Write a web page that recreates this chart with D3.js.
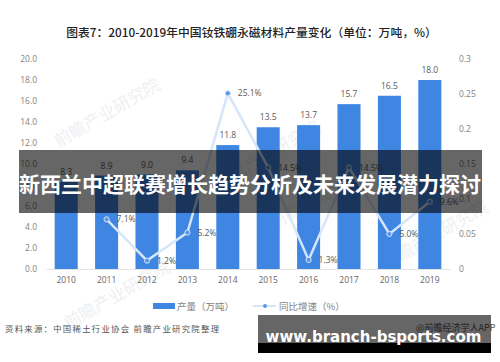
<!DOCTYPE html>
<html>
<head>
<meta charset="utf-8">
<script src="https://cdnjs.cloudflare.com/ajax/libs/d3/7.8.5/d3.min.js"></script>
<style>
    html, body { margin: 0; padding: 0; background: #fff; }
    svg { display: block; }
    text { font-family: "Noto Sans CJK SC", sans-serif; }
    .tick text { font-family: "Open Sans", "Noto Sans", sans-serif; }
</style>
</head>
<body>
<svg id="drawing_region"></svg>
<script>
const years = ['2010','2011','2012','2013','2014','2015','2016','2017','2018','2019'];
const output = [8.3, 8.9, 9.0, 9.4, 11.8, 13.5, 13.7, 15.7, 16.5, 18.0];
const growth = [null, 7.1, 1.2, 5.2, 25.1, 14.5, 1.3, 14.5, 5.0, 9.6];
const left_ticks = [0, 2, 4, 6, 8, 10, 12, 14, 16, 18, 20];
const right_ticks = [0, 0.05, 0.1, 0.15, 0.2, 0.25, 0.3];
const watermarks = [[110, 118], [325, 200], [120, 300], [270, 160], [438, 240]];

const width = 500, height = 362;
const margin = {top: 59, right: 50, bottom: 93, left: 46};
const inner_width = width - margin.left - margin.right;
const inner_height = height - margin.top - margin.bottom;

const svg = d3.select('#drawing_region')
    .attr('width', width)
    .attr('height', height);

// faint watermark goes under everything
svg.append('g').selectAll('text')
    .data(watermarks)
    .enter()
    .append('text')
    .attr('transform', d => `translate(${d[0]}, ${d[1]}) rotate(-30)`)
    .attr('text-anchor', 'middle')
    .attr('font-size', 17)
    .attr('fill', '#eef0f3')
    .text('前瞻产业研究院');

svg.append('text')
    .attr('x', 251.5)
    .attr('y', 37)
    .attr('text-anchor', 'middle')
    .attr('font-size', 11.8)
    .attr('font-weight', 500)
    .attr('fill', '#222')
    .text('图表7：2010-2019年中国钕铁硼永磁材料产量变化（单位：万吨，%）');

const chart = svg.append('g')
    .attr('transform', `translate(${margin.left}, ${margin.top})`);

const xscale = d3.scaleBand()
    .domain(years)
    .range([0, inner_width])
    .paddingInner(0.43)
    .paddingOuter(0.215);
const yscale = d3.scaleLinear().domain([0, 20]).range([inner_height, 0]);
const y2scale = d3.scaleLinear().domain([0, 0.3]).range([inner_height, 0]);

const xaxis_group = chart.append('g')
    .attr('transform', `translate(0, ${inner_height})`)
    .call(d3.axisBottom(xscale).tickSize(0).tickPadding(8));
xaxis_group.select('.domain').attr('stroke', '#e3e3e3');

const yaxis_group = chart.append('g')
    .call(d3.axisLeft(yscale).tickValues(left_ticks).tickFormat(d3.format('.1f')).tickSize(0).tickPadding(9));
yaxis_group.select('.domain').remove();

const y2axis_group = chart.append('g')
    .attr('transform', `translate(${inner_width + 9}, 0)`)
    .call(d3.axisRight(y2scale).tickValues(right_ticks).tickFormat(d => String(d)).tickSize(0).tickPadding(0));
y2axis_group.select('.domain').remove();

chart.selectAll('.tick text')
    .attr('font-size', 8.5)
    .attr('fill', '#7f7f7f');
xaxis_group.selectAll('.tick text').attr('fill', '#666');

chart.selectAll('.bar')
    .data(output)
    .enter()
    .append('rect')
    .attr('class', 'bar')
    .attr('x', (d, i) => xscale(years[i]))
    .attr('y', d => yscale(d))
    .attr('width', xscale.bandwidth())
    .attr('height', d => yscale(0) - yscale(d))
    .attr('fill', '#3f86e3');

chart.selectAll('.bar_label')
    .data(output)
    .enter()
    .append('text')
    .attr('class', 'bar_label')
    .attr('x', (d, i) => xscale(years[i]) + xscale.bandwidth() / 2)
    .attr('y', d => yscale(d) - 7)
    .attr('text-anchor', 'middle')
    .attr('font-size', 8.5)
    .style('font-family', '"Open Sans", sans-serif')
    .attr('fill', '#595959')
    .text(d => d.toFixed(1));

const line_points = growth
    .map((d, i) => ({year: years[i], value: d}))
    .filter(d => d.value !== null);

const line = d3.line()
    .x(d => xscale(d.year) + xscale.bandwidth() / 2)
    .y(d => y2scale(d.value / 100));

chart.append('path')
    .attr('d', line(line_points))
    .attr('fill', 'none')
    .attr('stroke', '#d6e6fa')
    .attr('stroke-width', 2.5);

chart.selectAll('.dot')
    .data(line_points)
    .enter()
    .append('circle')
    .attr('class', 'dot')
    .attr('cx', d => xscale(d.year) + xscale.bandwidth() / 2)
    .attr('cy', d => y2scale(d.value / 100))
    .attr('r', 2.6)
    .attr('fill', '#5b97e6')
    .attr('stroke', '#d6e6fa')
    .attr('stroke-width', 1);

chart.selectAll('.dot_label')
    .data(line_points)
    .enter()
    .append('text')
    .attr('class', 'dot_label')
    .attr('x', d => xscale(d.year) + xscale.bandwidth() / 2 + 10)
    .attr('y', d => y2scale(d.value / 100) + 3)
    .attr('font-size', 8.5)
    .style('font-family', '"Open Sans", sans-serif')
    .attr('fill', '#595959')
    .text(d => d.value.toFixed(1) + '%');

// legend
const legend = svg.append('g');
legend.append('rect')
    .attr('x', 153).attr('y', 303)
    .attr('width', 22).attr('height', 6)
    .attr('fill', '#3f86e3');
legend.append('text')
    .attr('x', 177).attr('y', 310)
    .attr('font-size', 9.5).attr('fill', '#7f7f7f')
    .text('产量（万吨）');
legend.append('line')
    .attr('x1', 253).attr('x2', 276)
    .attr('y1', 306).attr('y2', 306)
    .attr('stroke', '#d6e6fa').attr('stroke-width', 2);
legend.append('circle')
    .attr('cx', 265).attr('cy', 306).attr('r', 2)
    .attr('fill', '#5b97e6');
legend.append('text')
    .attr('x', 279).attr('y', 310)
    .attr('font-size', 9.5).attr('fill', '#7f7f7f')
    .text('同比增速（%）');

svg.append('text')
    .attr('x', 5).attr('y', 332)
    .attr('font-size', 8.4).attr('fill', '#555')
    .attr('textLength', 214)
    .text('资料来源：中国稀土行业协会 前瞻产业研究院整理');

// overlay banners sit on top of the chart
svg.append('rect')
    .attr('x', 19).attr('y', 150)
    .attr('width', 463).attr('height', 63)
    .attr('fill', '#000').attr('opacity', 0.6);
svg.append('text')
    .attr('x', 250).attr('y', 192)
    .attr('text-anchor', 'middle')
    .attr('font-size', 21)
    .attr('font-weight', 700)
    .attr('fill', '#fff')
    .text('新西兰中超联赛增长趋势分析及未来发展潜力探讨');

svg.append('text')
    .attr('x', 416).attr('y', 331)
    .attr('font-size', 9).attr('fill', '#555')
    .text('@前瞻经济学人APP');
svg.append('rect')
    .attr('x', 258).attr('y', 315)
    .attr('width', 233).attr('height', 28)
    .attr('fill', '#000').attr('opacity', 0.6);
svg.append('rect')
    .attr('x', 258).attr('y', 343)
    .attr('width', 233).attr('height', 10)
    .attr('fill', '#000');
svg.append('text')
    .attr('x', 373.5).attr('y', 342)
    .attr('text-anchor', 'middle')
    .attr('font-size', 15)
    .attr('font-weight', 700)
    .style('font-family', '"DejaVu Sans", sans-serif')
    .attr('fill', '#fff')
    .text('www.branch-bsports.com');
</script>
</body>
</html>
